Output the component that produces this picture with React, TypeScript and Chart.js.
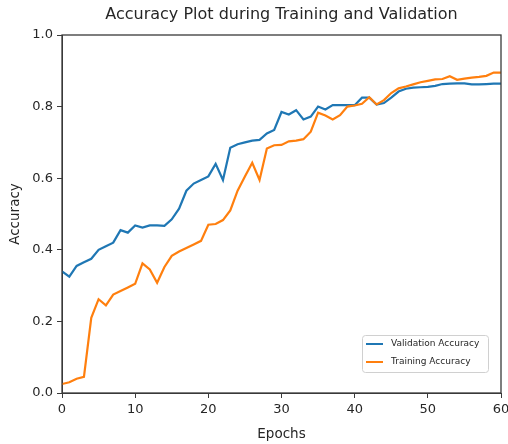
import React, { useEffect, useRef } from "react";
import { Chart, registerables } from "chart.js";

Chart.register(...registerables);

const epochs: number[] = Array.from({ length: 61 }, (_, i) => i);

const validationAccuracy: number[] = [
  0.34, 0.325, 0.355, 0.365, 0.375, 0.4, 0.41, 0.42, 0.455, 0.448,
  0.468, 0.462, 0.468, 0.468, 0.467, 0.485, 0.515, 0.565, 0.585, 0.595,
  0.605, 0.64, 0.595, 0.685, 0.695, 0.7, 0.705, 0.707, 0.725, 0.735,
  0.785, 0.778, 0.79, 0.764, 0.772, 0.8, 0.792, 0.804, 0.804, 0.804,
  0.804, 0.825, 0.825, 0.806, 0.81, 0.825, 0.842, 0.85, 0.853, 0.854,
  0.855, 0.858, 0.863, 0.864, 0.865, 0.865, 0.862, 0.862, 0.863, 0.864,
  0.864,
];

const trainingAccuracy: number[] = [
  0.025, 0.03, 0.04, 0.045, 0.21, 0.262, 0.245, 0.275, 0.285, 0.295,
  0.305, 0.362, 0.345, 0.308, 0.352, 0.383, 0.395, 0.405, 0.415, 0.425,
  0.47, 0.472, 0.483, 0.51, 0.565, 0.605, 0.643, 0.595, 0.683, 0.692,
  0.693, 0.703, 0.705, 0.709, 0.73, 0.783, 0.775, 0.764, 0.776, 0.8,
  0.803, 0.808, 0.826, 0.806, 0.818, 0.838, 0.851, 0.856, 0.862, 0.868,
  0.872, 0.876, 0.877, 0.885, 0.875, 0.878, 0.881, 0.883, 0.886, 0.895,
  0.895,
];

const seriesNames = ["Validation Accuracy", "Training Accuracy"];
const seriesColors = ["#1f77b4", "#ff7f0e"];
const titleText = "Accuracy Plot during Training and Validation";
const xTitle = "Epochs";
const yTitle = "Accuracy";

const FONT = "'DejaVu Sans', sans-serif";
const INK = "#262626";

const framePlugin = {
  id: "frame",
  afterDatasetsDraw(chart: any) {
    const { ctx, chartArea: a } = chart;
    ctx.save();
    ctx.strokeStyle = "#3a3a3a";
    ctx.lineWidth = 1.3;
    ctx.strokeRect(a.left, a.top, a.right - a.left, a.bottom - a.top);
    ctx.restore();
  },
};

const titlePlugin = {
  id: "customTitle",
  afterDraw(chart: any) {
    const { ctx, chartArea: a } = chart;
    ctx.save();
    ctx.fillStyle = INK;
    ctx.font = `16px ${FONT}`;
    ctx.textAlign = "center";
    ctx.textBaseline = "middle";
    ctx.fillText(titleText, (a.left + a.right) / 2, 15);
    ctx.restore();
  },
};

const legendPlugin = {
  id: "customLegend",
  afterDraw(chart: any) {
    const { ctx, chartArea: a } = chart;
    const right = a.right - 13;
    const bottom = a.bottom - 21;
    const w = 126;
    const h = 37;
    const left = right - w;
    const top = bottom - h;
    ctx.save();
    ctx.fillStyle = "rgba(255,255,255,0.85)";
    ctx.strokeStyle = "#d0d0d0";
    ctx.lineWidth = 1;
    ctx.beginPath();
    if ((ctx as any).roundRect) (ctx as any).roundRect(left + 0.5, top + 0.5, w, h, 3);
    else ctx.rect(left + 0.5, top + 0.5, w, h);
    ctx.fill();
    ctx.stroke();
    ctx.font = `9px ${FONT}`;
    ctx.textBaseline = "middle";
    ctx.textAlign = "left";
    seriesNames.forEach((name, i) => {
      const y = top + 9 + i * 18;
      ctx.strokeStyle = seriesColors[i];
      ctx.lineWidth = 2;
      ctx.beginPath();
      ctx.moveTo(left + 4, y);
      ctx.lineTo(left + 21, y);
      ctx.stroke();
      ctx.fillStyle = INK;
      ctx.fillText(name, left + 29, y);
    });
    ctx.restore();
  },
};

export default function App() {
  const canvasRef = useRef<HTMLCanvasElement | null>(null);

  useEffect(() => {
    document.body.style.margin = "0";
    const canvas = canvasRef.current;
    if (!canvas) return;
    const toPoints = (vals: number[]) => epochs.map((e, i) => ({ x: e, y: vals[i] }));
    const chart = new Chart(canvas, {
      type: "line",
      data: {
        datasets: [
          {
            label: seriesNames[1],
            data: toPoints(trainingAccuracy),
            borderColor: seriesColors[1],
            backgroundColor: seriesColors[1],
            borderWidth: 2.2,
            pointRadius: 0,
            tension: 0,
            fill: false,
          },
          {
            label: seriesNames[0],
            data: toPoints(validationAccuracy),
            borderColor: seriesColors[0],
            backgroundColor: seriesColors[0],
            borderWidth: 2.2,
            pointRadius: 0,
            tension: 0,
            fill: false,
          },
        ],
      },
      options: {
        animation: false,
        responsive: false,
        maintainAspectRatio: false,
        layout: { padding: { top: 35, right: 7, left: 0, bottom: 0 } },
        plugins: {
          legend: { display: false },
          title: { display: false },
          tooltip: { enabled: false },
        },
        scales: {
          x: {
            type: "linear",
            min: 0,
            max: 60,
            ticks: {
              stepSize: 10,
              color: INK,
              font: { family: FONT, size: 13 },
              padding: 4,
              maxRotation: 0,
            },
            grid: {
              display: true,
              drawOnChartArea: false,
              drawTicks: true,
              tickLength: 5,
              color: "#3a3a3a",
            },
            border: { display: true, color: "#3a3a3a" },
            title: {
              display: true,
              text: xTitle,
              color: INK,
              font: { family: FONT, size: 13.5 },
              padding: { top: 0, bottom: 1 },
            },
            afterFit: (scale: any) => {
              scale.height = 51;
              scale.paddingRight = 0;
              scale.paddingLeft = 0;
            },
          },
          y: {
            type: "linear",
            min: 0,
            max: 1,
            ticks: {
              stepSize: 0.2,
              color: INK,
              font: { family: FONT, size: 13 },
              padding: 4,
              callback: (v: any) => Number(v).toFixed(1),
            },
            grid: {
              display: true,
              drawOnChartArea: false,
              drawTicks: true,
              tickLength: 5,
              color: "#3a3a3a",
            },
            border: { display: true, color: "#3a3a3a" },
            title: {
              display: true,
              text: yTitle,
              color: INK,
              font: { family: FONT, size: 13.5 },
              padding: { top: 7, bottom: 0 },
            },
            afterFit: (scale: any) => {
              scale.width = 62;
              scale.paddingTop = 0;
              scale.paddingBottom = 0;
            },
          },
        },
      },
      plugins: [framePlugin, titlePlugin, legendPlugin],
    });
    return () => chart.destroy();
  }, []);

  return (
    <div style={{ width: 508, height: 444 }}>
      <canvas ref={canvasRef} width={508} height={444} style={{ display: "block" }} />
    </div>
  );
}
